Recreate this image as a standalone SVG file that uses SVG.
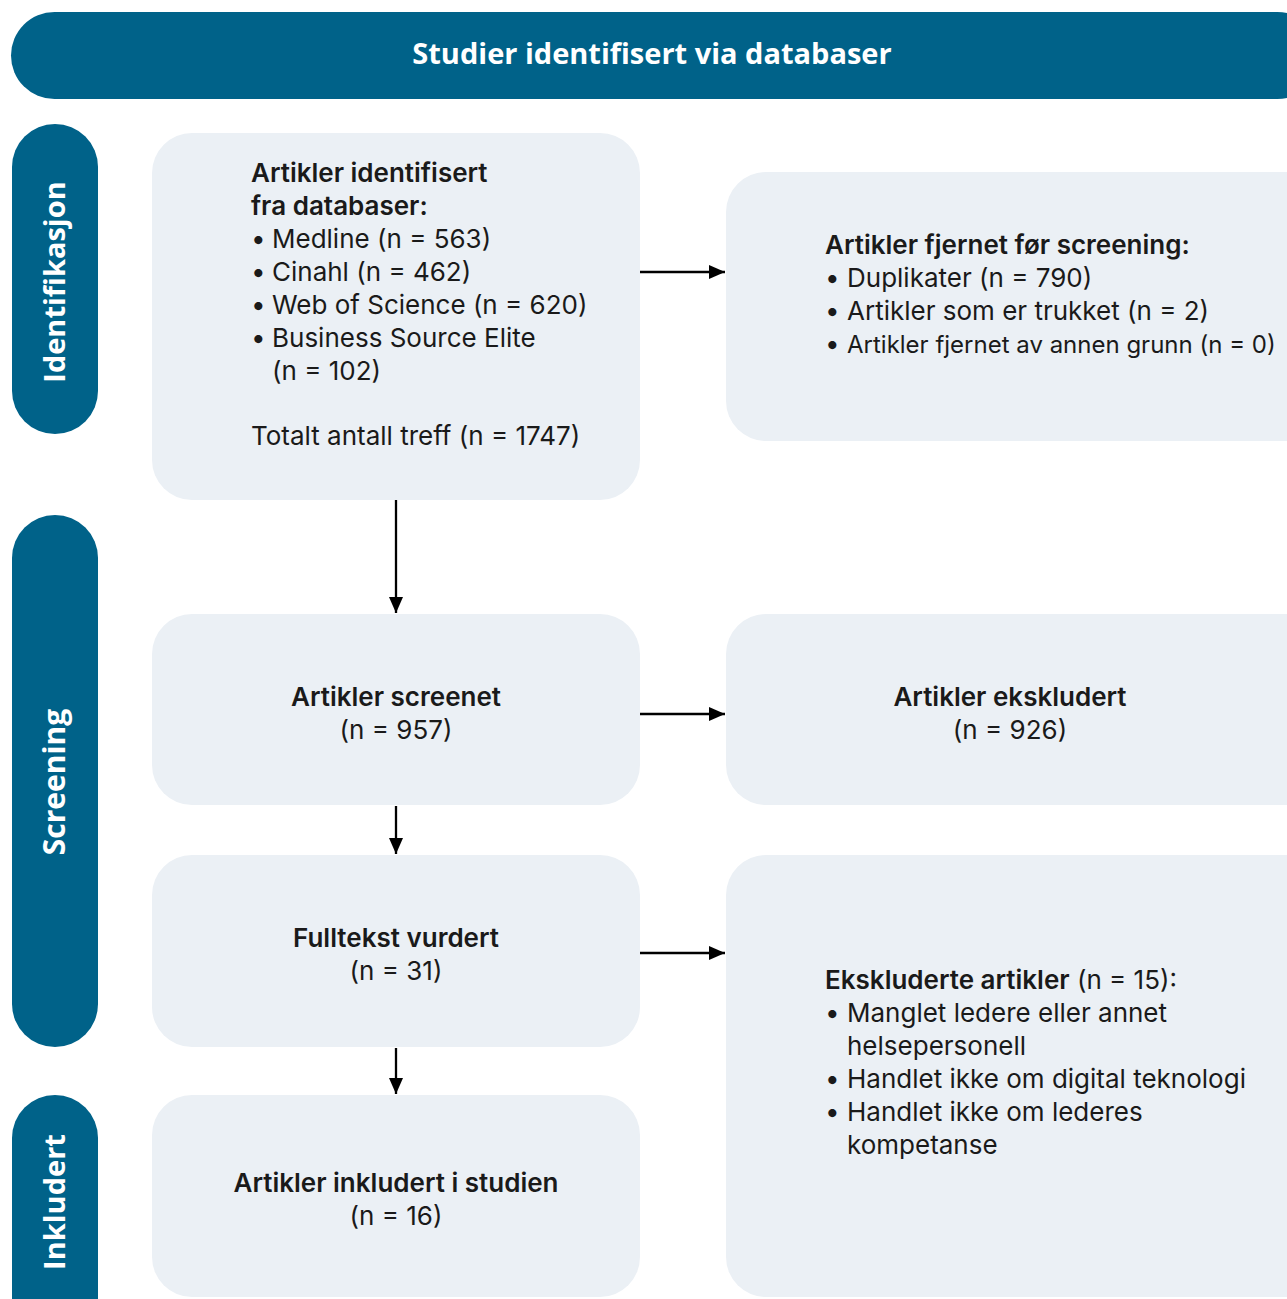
<svg xmlns="http://www.w3.org/2000/svg" width="1287" height="1299" viewBox="0 0 1287 1299">
<defs>
<style>
.band{fill:#006289}
.box{fill:#ebf0f5}
.bt{font-family:"Open Sans","DejaVu Sans",sans-serif;font-weight:700;fill:#fff}
.t{font-family:Inter,"Noto Sans",sans-serif;font-size:26px;fill:#1a1a1a}
.b{font-weight:600}
.c{text-anchor:middle}
.conn{stroke:#000;stroke-width:2.3;fill:none}
</style>
<marker id="a" viewBox="0 0 16 14" refX="16" refY="7" markerWidth="16" markerHeight="14" markerUnits="userSpaceOnUse" orient="auto">
<path d="M0,0 L16,7 L0,14 z" fill="#000"/>
</marker>
</defs>
<rect width="1287" height="1299" fill="#fff"/>

<g id="header">
<rect class="band" x="11" y="12" width="1310" height="87" rx="43.5"/>
<text class="bt c" x="652" y="64" font-size="29">Studier identifisert via databaser</text>
</g>

<g id="phase-identifikasjon">
<rect class="band" x="12" y="124" width="86" height="310" rx="43"/>
<text class="bt c" font-size="29" transform="translate(65,282) rotate(-90)">Identifikasjon</text>
</g>
<g id="phase-screening">
<rect class="band" x="12" y="515" width="86" height="532" rx="43"/>
<text class="bt c" font-size="30" transform="translate(65,782) rotate(-90)">Screening</text>
</g>
<g id="phase-inkludert">
<rect class="band" x="12" y="1095" width="86" height="260" rx="43"/>
<text class="bt c" font-size="29" transform="translate(65,1202) rotate(-90)">Inkludert</text>
</g>

<g id="identified">
<rect class="box" x="152" y="133" width="488" height="367" rx="40"/>
<text class="t">
<tspan class="b" x="251" y="182">Artikler identifisert</tspan>
<tspan class="b" x="251" y="215">fra databaser:</tspan>
<tspan x="251" y="248">•</tspan><tspan x="272" y="248">Medline (n = 563)</tspan>
<tspan x="251" y="281">•</tspan><tspan x="272" y="281">Cinahl (n = 462)</tspan>
<tspan x="251" y="314">•</tspan><tspan x="272" y="314">Web of Science (n = 620)</tspan>
<tspan x="251" y="347">•</tspan><tspan x="272" y="347">Business Source Elite</tspan>
<tspan x="272" y="380">(n = 102)</tspan>
<tspan x="251" y="445">Totalt antall treff (n = 1747)</tspan>
</text>
</g>

<g id="removed">
<rect class="box" x="726" y="172" width="600" height="269" rx="40"/>
<text class="t">
<tspan class="b" x="825" y="254">Artikler fjernet før screening:</tspan>
<tspan x="825" y="287">•</tspan><tspan x="847" y="287">Duplikater (n = 790)</tspan>
<tspan x="825" y="320">•</tspan><tspan x="847" y="320">Artikler som er trukket (n = 2)</tspan>
<tspan x="825" y="353">•</tspan><tspan x="847" y="353" font-size="24">Artikler fjernet av annen grunn (n = 0)</tspan>
</text>
</g>

<g id="screened">
<rect class="box" x="152" y="614" width="488" height="191" rx="40"/>
<text class="t c"><tspan class="b" x="396" y="706">Artikler screenet</tspan><tspan x="396" y="739">(n = 957)</tspan></text>
</g>

<g id="excluded">
<rect class="box" x="726" y="614" width="600" height="191" rx="40"/>
<text class="t c"><tspan class="b" x="1010" y="706">Artikler ekskludert</tspan><tspan x="1010" y="739">(n = 926)</tspan></text>
</g>

<g id="fulltext">
<rect class="box" x="152" y="855" width="488" height="192" rx="40"/>
<text class="t c"><tspan class="b" x="396" y="947">Fulltekst vurdert</tspan><tspan x="396" y="980">(n = 31)</tspan></text>
</g>

<g id="fulltext-excluded">
<rect class="box" x="726" y="855" width="600" height="442" rx="40"/>
<text class="t">
<tspan x="825" y="989"><tspan class="b">Ekskluderte artikler</tspan> (n = 15):</tspan>
<tspan x="825" y="1022">•</tspan><tspan x="847" y="1022">Manglet ledere eller annet</tspan>
<tspan x="847" y="1055">helsepersonell</tspan>
<tspan x="825" y="1088">•</tspan><tspan x="847" y="1088">Handlet ikke om digital teknologi</tspan>
<tspan x="825" y="1121">•</tspan><tspan x="847" y="1121">Handlet ikke om lederes</tspan>
<tspan x="847" y="1154">kompetanse</tspan>
</text>
</g>

<g id="included">
<rect class="box" x="152" y="1095" width="488" height="202" rx="40"/>
<text class="t c"><tspan class="b" x="396" y="1192">Artikler inkludert i studien</tspan><tspan x="396" y="1225">(n = 16)</tspan></text>
</g>

<g id="connectors">
<line class="conn" x1="640" y1="272" x2="725" y2="272" marker-end="url(#a)"/>
<line class="conn" x1="640" y1="714" x2="725" y2="714" marker-end="url(#a)"/>
<line class="conn" x1="640" y1="953" x2="725" y2="953" marker-end="url(#a)"/>
<line class="conn" x1="396" y1="500" x2="396" y2="613" marker-end="url(#a)"/>
<line class="conn" x1="396" y1="806" x2="396" y2="854" marker-end="url(#a)"/>
<line class="conn" x1="396" y1="1048" x2="396" y2="1094" marker-end="url(#a)"/>
</g>
</svg>
